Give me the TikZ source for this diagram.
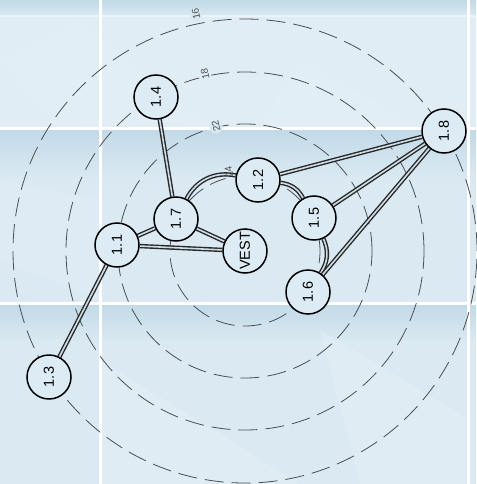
\documentclass[tikz,border=0pt]{standalone}
\usepackage{fontspec}
\newfontfamily\labfont{Liberation Sans}
\usetikzlibrary{calc}
\definecolor{bgbase}{HTML}{DAE9F2}
\definecolor{bglight}{HTML}{E4F0F7}
\definecolor{bgdark}{HTML}{C2DAE8}
\definecolor{nodefill}{HTML}{DDECF4}
\definecolor{ringcol}{HTML}{4A4E52}
\definecolor{edgecol}{HTML}{26282A}
\definecolor{gapcol}{HTML}{D0DCE3}
\pgfdeclarelayer{bg}
\pgfdeclarelayer{edges}
\pgfsetlayers{bg,edges,main}
\tikzset{
  station/.style={circle, draw=black, line width=1.5pt, fill=nodefill, minimum size=44pt, inner sep=0pt, rotate=90, font=\labfont\fontsize{14.5}{14.5}\selectfont},
  ringline/.style={draw=ringcol, line width=0.8pt, dash pattern=on 19pt off 8pt},
  ringlabel/.style={inner sep=0pt, text=ringcol, font=\labfont\fontsize{10}{10}\selectfont},
  link/.style={draw=edgecol, line width=1.4pt, double=gapcol, double distance=1.6pt}
}
\begin{document}
\begin{tikzpicture}[x=1pt,y=-1pt]
\useasboundingbox (0,0) rectangle (476,484);
\begin{pgfonlayer}{bg}
  % background tiles
  \fill[bgbase] (0,0) rectangle (476,484);
  \shade[top color=bgdark, bottom color=bgbase] (0,0) rectangle (476,16);
  \fill[bglight!60!bgbase] (0,17) rectangle (476,128);
  \shade[top color=bgdark, bottom color=bgbase] (0,130) rectangle (476,178);
  \shade[top color=bgdark, bottom color=bgbase] (0,305) rectangle (476,342);
  \fill[bglight, opacity=0.5] (0,60) -- (80,20) -- (200,120) -- (60,128) -- cycle;
  \fill[bglight, opacity=0.5] (300,60) -- (420,128) -- (260,128) -- cycle;
  \fill[bglight, opacity=0.5] (100,360) -- (300,484) -- (100,484) -- cycle;
  \fill[bglight, opacity=0.5] (320,330) -- (470,420) -- (470,484) -- (360,484) -- cycle;
  \fill[bglight, opacity=0.4] (0,180) -- (100,200) -- (100,300) -- (0,260) -- cycle;
  \fill[white, opacity=0.5] (0,15.5) rectangle (476,17.5);
  % white grid lines
  \fill[white] (98.5,0) rectangle (101.5,484);
  \fill[white] (466.5,0) rectangle (469.5,484);
  \fill[white] (0,126.5) rectangle (476,129.5);
  \fill[white] (0,301.5) rectangle (476,304.5);
  % rings
  \coordinate (c) at (245,251);
  \draw[ringline] (c) circle[radius=75pt];
  \draw[ringline] (c) circle[radius=127pt];
  \draw[ringline] (c) circle[radius=179pt];
  \draw[ringline] (c) circle[radius=232pt];
  \fill[bgbase] (196,15) circle[radius=6.5pt];
  \fill[bglight!60!bgbase] (205,75) circle[radius=6.5pt];
  \fill[bgbase] (216,127) circle[radius=6.5pt];
  \fill[bgbase] (229,173) circle[radius=6.5pt];
\end{pgfonlayer}
\node[ringlabel, rotate=101] (l16) at (196,14) {16};
\node[ringlabel, rotate=102] (l18) at (205,74) {18};
\node[ringlabel, rotate=103] (l22) at (216,126) {22};
\node[ringlabel, rotate=101] (l24) at (229,172) {24};
% stations
\node[station] (vest) at (245,251) {VEST};
\node[station] (n11) at (117,245) {1.1};
\node[station] (n12) at (258,180) {1.2};
\node[station] (n13) at (49,377) {1.3};
\node[station] (n14) at (156,97) {1.4};
\node[station] (n15) at (314,218) {1.5};
\node[station] (n16) at (308,292) {1.6};
\node[station] (n17) at (176,219) {1.7};
\node[station] (n18) at (444,131) {1.8};
\begin{pgfonlayer}{edges}
  \draw[link] (n14) -- (n17);
  \draw[link] (n11) -- (n17);
  \draw[link] (n11) -- (vest);
  \draw[link] (n17) -- (vest);
  \draw[link] (n11) -- (n13);
  \draw[link] (n17) to[bend left=37] (n12);
  \draw[link] (n12) to[bend left=27] (n15);
  \draw[link] (n15) to[bend left=29] (n16);
  \draw[link] (n12) -- (n18);
  \draw[link] (n15) -- (n18);
  \draw[link] (n16) -- (n18);
\end{pgfonlayer}
\end{tikzpicture}
\end{document}
